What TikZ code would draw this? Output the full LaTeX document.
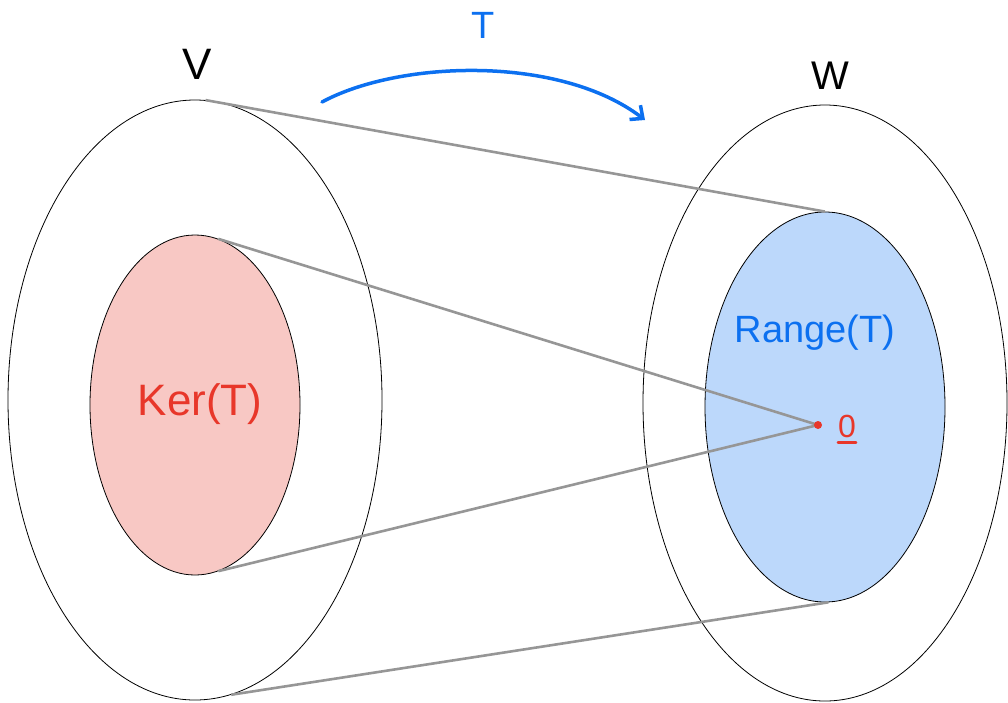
\documentclass[tikz,border=0pt]{standalone}
\usepackage{fontspec}
\setmainfont{Liberation Sans}
\usetikzlibrary{arrows.meta,positioning,shapes.geometric}
\definecolor{penblue}{RGB}{12,112,240}
\definecolor{penred}{RGB}{232,55,42}
\definecolor{lightred}{RGB}{248,200,196}
\definecolor{lightblue}{RGB}{188,216,251}
\definecolor{linegray}{RGB}{150,150,150}

\begin{document}
\begin{tikzpicture}[x=1pt, y=-1pt,
  set/.style={draw=black, ellipse, inner sep=0pt, line width=0.8pt},
  ray/.style={draw=linegray, line width=2.6pt}]
\useasboundingbox (0,0) rectangle (1008,702);
% spaces
\node[set, minimum width=374pt, minimum height=600pt] (V) at (195,400) {};
\node[set, minimum width=364pt, minimum height=596pt] (W) at (825,403) {};
\node[set, fill=lightred, minimum width=210pt, minimum height=340pt] (ker) at (195,405) {};
\node[set, fill=lightblue, minimum width=240pt, minimum height=390pt] (range) at (825,407) {};
% labels
\node[font=\fontsize{44}{44}\selectfont] (vlab) at (197,64) {V};
\node[font=\fontsize{40}{40}\selectfont] (wlab) at (830,76) {W};
\node[font=\fontsize{44}{44}\selectfont, text=penred] (kerlab) at (200,404) {Ker(T)};
\node[font=\fontsize{38}{38}\selectfont, text=penblue] (rangelab) at (815,333) {Range(T)};
\node[font=\fontsize{38}{38}\selectfont, text=penblue] (tlab) at (483,25) {T};
% zero vector
\node[font=\fontsize{32}{32}\selectfont, text=penred, inner sep=0pt] (zerolab) at (847,426) {0};
\draw[penred, line width=2.5pt, line cap=round] ([yshift=-5pt]zerolab.south west) -- ([yshift=-5pt]zerolab.south east);
% map arrow
\coordinate (ts) at (322,102);
\coordinate (te) at (645,120);
\draw[penblue, line width=3.5pt, line cap=round, -{Straight Barb[length=10pt,width=18pt]}]
  (ts) .. controls (400,60) and (560,55) .. (te);
% rays
\coordinate (zero) at (818,425);
\draw[ray] (V.88) -- (range.north);
\draw[ray] (ker.82) -- (zero);
\draw[ray] (ker.-82) -- (zero);
\draw[ray] (V.-83) -- (range.-89);
\node[circle, fill=penred, inner sep=0pt, minimum size=8pt] (zerodot) at (zero) {};
\end{tikzpicture}
\end{document}
